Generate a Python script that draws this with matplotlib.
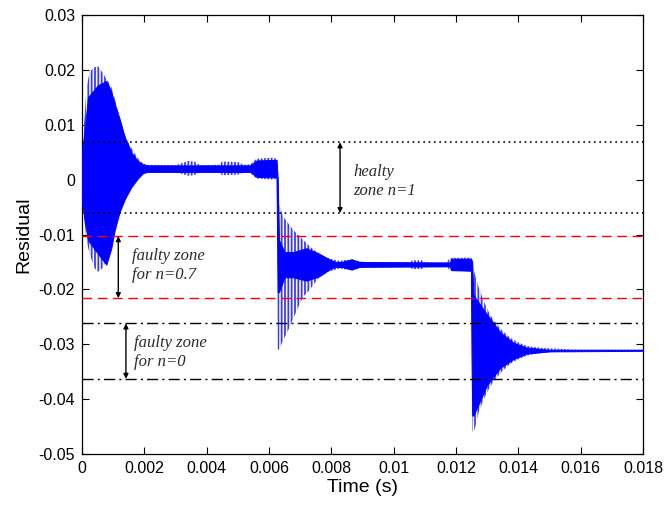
import matplotlib
matplotlib.use("Agg")
import matplotlib.pyplot as plt

# residual envelope (outer = light stripes, inner = dense blue)
t_outer = [0.0, 0.00009, 0.00014, 0.00025, 0.00041, 0.00051, 0.00067, 0.00084, 0.00094,
           0.00105, 0.00121, 0.00137, 0.00153, 0.00169, 0.00185, 0.00196, 0.0021, 0.0030,
           0.0034, 0.0036, 0.0038, 0.0044, 0.0045, 0.0050, 0.0052, 0.0054, 0.0056, 0.0061,
           0.00624, 0.00628, 0.00632, 0.00646, 0.00662, 0.00678, 0.00694, 0.0071, 0.00726,
           0.00742, 0.00758, 0.00775, 0.0079, 0.00807, 0.00828, 0.0085, 0.0088, 0.0092,
           0.0105, 0.0106, 0.0109, 0.0110, 0.0117, 0.0118, 0.01248, 0.01252, 0.01257,
           0.01262, 0.01272, 0.01288, 0.01304, 0.0132, 0.01342, 0.01363, 0.01384, 0.01406,
           0.01427, 0.01449, 0.01481, 0.01524, 0.0158, 0.018]
up_outer = [0.006, 0.012, 0.0166, 0.0197, 0.0205, 0.0207, 0.0194, 0.0178, 0.0169,
            0.0148, 0.0112, 0.0081, 0.0063, 0.0048, 0.0035, 0.0029, 0.0027, 0.0026,
            0.0034, 0.0033, 0.0026, 0.0027, 0.0033, 0.0032, 0.0027, 0.0028, 0.0038, 0.0040,
            0.0038, 0.0036, -0.0045, -0.0068, -0.0080, -0.0092, -0.0101, -0.0110, -0.0119,
            -0.0127, -0.0134, -0.0140, -0.0143, -0.0146, -0.0148, -0.0146, -0.0148, -0.0151,
            -0.0151, -0.0147, -0.0147, -0.0151, -0.0151, -0.0143, -0.0142, -0.0146, -0.0165,
            -0.0175, -0.0195, -0.0220, -0.0240, -0.0256, -0.0271, -0.0283, -0.0292, -0.0298,
            -0.0303, -0.0305, -0.0307, -0.0308, -0.0310, -0.0310]
lo_outer = [-0.004, -0.008, -0.011, -0.0137, -0.0162, -0.0168, -0.0161, -0.0135, -0.0113,
            -0.0090, -0.0060, -0.0033, -0.0017, -0.0001, 0.0008, 0.0012, 0.0013, 0.0014,
            0.0007, 0.0008, 0.0014, 0.0013, 0.0008, 0.0009, 0.0013, 0.0012, 0.0002, 0.0000,
            0.0002, -0.0310, -0.0310, -0.0292, -0.0274, -0.0253, -0.0232, -0.0213, -0.0204,
            -0.0192, -0.0180, -0.0174, -0.0168, -0.0165, -0.0162, -0.0164, -0.0162, -0.0159,
            -0.0159, -0.0163, -0.0163, -0.0159, -0.0158, -0.0166, -0.0167, -0.0459, -0.0459,
            -0.0450, -0.0426, -0.0401, -0.0383, -0.0368, -0.0353, -0.0341, -0.0332, -0.0326,
            -0.0321, -0.0318, -0.0315, -0.0314, -0.0312, -0.0312]

t_inner = [0.0, 0.0001, 0.00019, 0.00051, 0.00078, 0.00094, 0.00105, 0.0012, 0.00137,
           0.00158, 0.00179, 0.00196, 0.0021, 0.0054, 0.0056, 0.00624, 0.00628, 0.00632,
           0.0065, 0.00678, 0.0072, 0.00758, 0.0079, 0.00812, 0.00833, 0.00865, 0.0089,
           0.0118, 0.01185, 0.01248, 0.01252, 0.01256, 0.0130, 0.01342, 0.01384, 0.01427,
           0.0150, 0.018]
up_inner = [0.005, 0.010, 0.0150, 0.0172, 0.0180, 0.0160, 0.0138, 0.0112, 0.0078,
            0.0050, 0.0034, 0.0028, 0.0026, 0.0026, 0.0035, 0.0036, 0.0000, -0.0110,
            -0.0132, -0.0132, -0.0125, -0.0134, -0.0144, -0.0150, -0.0150, -0.0145, -0.0150,
            -0.0151, -0.0144, -0.0144, -0.0150, -0.0210, -0.0246, -0.0278, -0.0297, -0.0306,
            -0.0310, -0.0310]
lo_inner = [-0.004, -0.008, -0.0110, -0.0135, -0.0155, -0.0125, -0.0092, -0.0060, -0.0036,
            -0.0014, 0.0002, 0.0012, 0.0014, 0.0014, 0.0005, 0.0004, -0.0205, -0.0205,
            -0.0178, -0.0178, -0.0184, -0.0177, -0.0165, -0.0159, -0.0159, -0.0164, -0.0159,
            -0.0158, -0.0165, -0.0166, -0.0430, -0.0430, -0.0374, -0.0343, -0.0327, -0.0317,
            -0.0313, -0.0312]

# zone limits
healthy_zone = [0.0068, -0.0061]
faulty_07 = [-0.0103, -0.0216]
faulty_0 = [-0.0262, -0.0363]

xticks = [0, 0.002, 0.004, 0.006, 0.008, 0.01, 0.012, 0.014, 0.016, 0.018]
xticklabels = ["0", "0.002", "0.004", "0.006", "0.008", "0.01", "0.012", "0.014", "0.016", "0.018"]
yticks = [-0.05, -0.04, -0.03, -0.02, -0.01, 0, 0.01, 0.02, 0.03]
yticklabels = ["-0.05", "-0.04", "-0.03", "-0.02", "-0.01", "0", "0.01", "0.02", "0.03"]

plt.rcParams["font.family"] = ["Liberation Sans", "DejaVu Sans"]
plt.rcParams["hatch.linewidth"] = 1.3

fig = plt.figure(figsize=(6.65, 5.11), dpi=100)
ax = fig.add_axes([82 / 665, 1 - 454 / 511, (643 - 82) / 665, (454 - 15) / 511])

# signal
ax.fill_between(t_outer, lo_outer, up_outer, facecolor="none", edgecolor="#3a3aff",
                hatch="|||||", linewidth=0, zorder=2)
ax.fill_between(t_inner, lo_inner, up_inner, facecolor="#0000ff", edgecolor="#0000ff",
                linewidth=0.7, zorder=3)

# zone lines
for y in healthy_zone:
    ax.axhline(y, color="k", lw=1.2, linestyle=(0, (1, 2.2)), zorder=4)
for y in faulty_07:
    ax.axhline(y, color="red", lw=1.0, linestyle=(0, (7, 4)), zorder=4)
for y in faulty_0:
    ax.axhline(y, color="k", lw=1.0, linestyle=(0, (8, 3, 1.5, 3)), zorder=4)

arrow = dict(arrowstyle="<|-|>", color="k", lw=1.0, mutation_scale=7, shrinkA=0, shrinkB=0)
ax.annotate("", xy=(0.00828, healthy_zone[0]), xytext=(0.00828, healthy_zone[1]), arrowprops=arrow, zorder=5)
ax.annotate("", xy=(0.001165, faulty_07[0]), xytext=(0.001165, faulty_07[1]), arrowprops=arrow, zorder=5)
ax.annotate("", xy=(0.00141, faulty_0[0]), xytext=(0.00141, faulty_0[1]), arrowprops=arrow, zorder=5)

txt = dict(family="Liberation Serif", style="italic", fontsize=12, color="#2a2a2a",
           va="center", ha="left", linespacing=1.2)
ax.text(0.0087, -0.00035, "healty\nzone n=1", **txt)
ax.text(0.0016, -0.01565, "faulty zone\nfor n=0.7", **txt)
ax.text(0.00168, -0.0315, "faulty zone\nfor n=0", **txt)

ax.set_xlim(0, 0.018)
ax.set_ylim(-0.05, 0.03)
ax.set_xticks(xticks)
ax.set_xticklabels(xticklabels)
ax.set_yticks(yticks)
ax.set_yticklabels(yticklabels)
ax.tick_params(direction="in", length=5, width=0.8, top=True, right=True, labelsize=11.5,
               pad=5)
for s in ax.spines.values():
    s.set_linewidth(0.9)

ax.set_xlabel("Time (s)", fontsize=14, labelpad=2)
ax.set_ylabel("Residual", fontsize=14, labelpad=4)

fig.savefig("out.png", dpi=100)
